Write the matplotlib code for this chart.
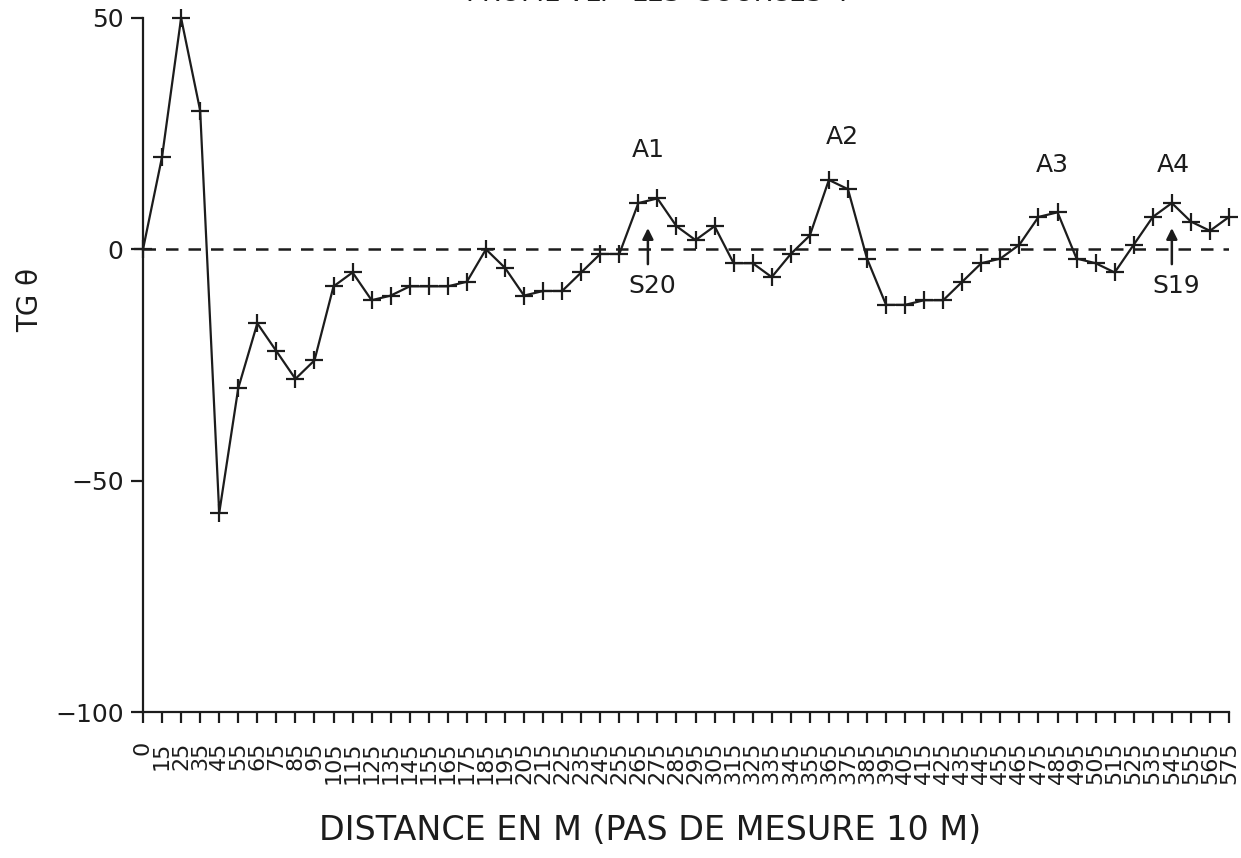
import matplotlib
matplotlib.use("Agg")
import matplotlib.pyplot as plt

# ---- data ----
tick_labels = ["0"] + [str(10 * k + 5) for k in range(1, 58)]
tg_values = [0, 20, 50, 30, -57, -30, -16, -22, -28, -24,
             -8, -5, -11, -10, -8, -8, -8, -7, 0, -4,
             -10, -9, -9, -5, -1, -1, 10, 11, 5, 2,
             5, -3, -3, -6, -1, 3, 15, 13, -2, -12,
             -12, -11, -11, -7, -3, -2, 1, 7, 8, -2,
             -3, -5, 1, 7, 10, 6, 4, 7]
anomaly_labels = ["A1", "A2", "A3", "A4"]
anomaly_pos = [(26.5, 21.5), (36.7, 24.3), (47.75, 18.3), (54.1, 18.3)]
sondage_labels = ["S20", "S19"]
sondage_x = [26.5, 54.0]

ink = "#1c1c1c"
plt.rcParams['font.family'] = ['DejaVu Sans']

fig = plt.figure(figsize=(12.41, 8.58), dpi=100)
ax = fig.add_axes([143 / 1241, 1 - 712 / 858, (1229 - 143) / 1241, (712 - 18) / 858])

x = list(range(len(tg_values)))
ax.plot(x, tg_values, color=ink, lw=1.6, marker='+', markersize=13,
        markeredgewidth=1.6, clip_on=False, zorder=3)
ax.plot([0, len(tg_values) - 1], [0, 0], color=ink, lw=1.8,
        dashes=(5, 4), zorder=2)

ax.set_xlim(0, len(tg_values) - 1)
ax.set_ylim(-100, 50)
ax.set_yticks([-100, -50, 0, 50])
ax.set_yticklabels(["\u2212100", "\u221250", "0", "50"], fontsize=18, color=ink)
ax.set_xticks(x)
ax.set_xticklabels(tick_labels, rotation=90, fontsize=16, color=ink)
for s in ["top", "right"]:
    ax.spines[s].set_visible(False)
for s in ["left", "bottom"]:
    ax.spines[s].set_color(ink)
    ax.spines[s].set_linewidth(1.6)
ax.tick_params(axis='y', direction='out', length=9, width=1.6, pad=5, colors=ink)
ax.tick_params(axis='x', direction='out', length=8, width=1.6, pad=13, colors=ink)

for lab, (px, py) in zip(anomaly_labels, anomaly_pos):
    ax.text(px, py, lab, fontsize=18, ha='center', va='center', color=ink)
for lab, sx in zip(sondage_labels, sondage_x):
    ax.annotate("", xy=(sx, 5.2), xytext=(sx, -3.8),
                arrowprops=dict(arrowstyle='-|>', color=ink, lw=1.8,
                                mutation_scale=16))
    ax.text(sx + 0.25, -8.0, lab, fontsize=18, ha='center', va='center', color=ink)

fig.text(30 / 1241, 1 - 300 / 858, "TG \u03b8", rotation=90, fontsize=20,
         ha='center', va='center', color=ink)
fig.text(650 / 1241, 1 - 830 / 858, "DISTANCE EN M (PAS DE MESURE 10 M)",
         fontsize=24, ha='center', va='center', color=ink)
fig.text(657 / 1241, 1 + 6 / 858, "PROFIL VLF  LES  SOURCES  I",
         fontsize=19, ha='center', va='center', color=ink)

fig.savefig("out.png", dpi=100, facecolor='white')
